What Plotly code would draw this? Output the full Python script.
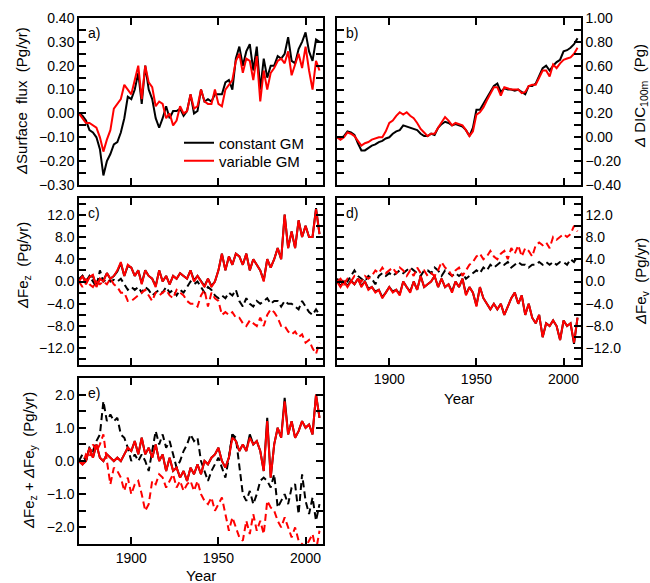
import plotly.graph_objects as go

# ---------------- data (2-year sampling) ----------------
years = list(range(1870, 2010, 2))

# a) surface flux (Pg/yr)
flux_const = [0.00, -0.01, -0.03, -0.07, -0.08, -0.10, -0.15, -0.26, -0.20, -0.17,
              -0.13, -0.12, -0.08, -0.02, 0.07, 0.06, 0.10, 0.17, 0.04, 0.20,
              0.10, 0.06, -0.02, -0.06, -0.02, 0.03, -0.02, 0.01, 0.01, 0.02,
              -0.01, 0.01, 0.08, 0.00, 0.01, 0.10, 0.05, 0.06, 0.05, 0.08,
              0.08, 0.08, 0.13, 0.14, 0.10, 0.23, 0.28, 0.20, 0.26, 0.29,
              0.18, 0.28, 0.10, 0.23, 0.15, 0.20, 0.20, 0.24, 0.23, 0.25,
              0.32, 0.22, 0.21, 0.27, 0.30, 0.34, 0.26, 0.22, 0.31, 0.30]
flux_var = [0.00, -0.02, -0.04, -0.04, -0.05, -0.06, -0.10, -0.16, -0.11, -0.07,
            0.02, 0.04, 0.06, 0.12, 0.10, 0.08, 0.14, 0.20, 0.06, 0.20,
            0.13, 0.11, 0.03, 0.05, 0.04, -0.02, 0.00, -0.05, -0.03, 0.03,
            0.00, 0.01, 0.08, 0.02, 0.03, 0.10, 0.05, 0.04, 0.04, 0.10,
            0.04, 0.03, 0.10, 0.12, 0.14, 0.22, 0.25, 0.17, 0.23, 0.22,
            0.14, 0.24, 0.05, 0.18, 0.10, 0.17, 0.19, 0.22, 0.23, 0.21,
            0.26, 0.16, 0.21, 0.25, 0.19, 0.28, 0.18, 0.10, 0.22, 0.18]

# b) DIC in top 100 m (Pg)
dic_const = [0.00, -0.01, 0.01, 0.05, 0.04, 0.02, -0.05, -0.11, -0.11, -0.09,
             -0.07, -0.06, -0.04, -0.03, -0.01, 0.00, 0.03, 0.05, 0.06, 0.10,
             0.09, 0.08, 0.07, 0.06, 0.03, 0.01, 0.01, 0.03, 0.02, 0.08,
             0.11, 0.13, 0.12, 0.10, 0.11, 0.10, 0.09, 0.06, 0.01, 0.08,
             0.23, 0.23, 0.28, 0.32, 0.38, 0.43, 0.45, 0.38, 0.41, 0.40,
             0.40, 0.39, 0.40, 0.38, 0.36, 0.43, 0.43, 0.45, 0.52, 0.58,
             0.60, 0.56, 0.60, 0.63, 0.65, 0.72, 0.73, 0.75, 0.78, 0.83]
dic_var = [0.00, -0.02, 0.00, 0.04, 0.03, 0.01, -0.03, -0.07, -0.05, -0.04,
           -0.02, -0.01, 0.00, 0.00, 0.05, 0.12, 0.14, 0.18, 0.21, 0.19,
           0.21, 0.18, 0.16, 0.12, 0.07, 0.04, 0.01, 0.03, 0.03, 0.08,
           0.13, 0.17, 0.14, 0.10, 0.12, 0.11, 0.10, 0.06, 0.01, 0.05,
           0.19, 0.21, 0.25, 0.31, 0.36, 0.42, 0.42, 0.35, 0.42, 0.41,
           0.40, 0.40, 0.40, 0.37, 0.38, 0.43, 0.44, 0.44, 0.50, 0.56,
           0.56, 0.51, 0.61, 0.58, 0.62, 0.65, 0.66, 0.67, 0.70, 0.75]

# c) vertical Fe flux (solid / dashed components)
fez_const_solid = [0.2, 1.0, -0.3, 0.8, 1.0, -0.8, 0.5, 0.2, 1.5, 0.5,
                   1.0, 1.8, 3.3, 1.0, 2.8, 2.5, 1.0, 2.0, -0.3, 2.0,
                   1.0, 0.5, -0.8, 2.0, 0.0, 1.0, -0.5, 1.0, 0.5, 1.5,
                   1.0, 0.5, 2.0, 0.2, 1.0, 0.0, -0.8, 0.5, -0.8, 0.0,
                   2.0, 5.0, 2.0, 4.5, 3.0, 5.0, 4.5, 3.0, 5.0, 2.0,
                   4.0, 3.0, 2.0, 0.2, 4.0, 2.5, 4.0, 6.0, 4.0, 12.0,
                   6.0, 9.0, 6.0, 11.0, 8.0, 10.0, 8.0, 8.0, 13.2, 8.5]
fez_var_solid = [0.0, 1.0, -0.5, 0.8, 1.2, -1.0, 0.5, 0.0, 1.5, 0.5,
                 1.0, 2.0, 3.5, 1.0, 3.0, 2.5, 1.0, 2.0, -0.5, 2.0,
                 1.0, 0.5, -1.0, 2.0, 0.0, 1.0, -0.5, 1.0, 0.5, 1.5,
                 1.0, 0.5, 2.0, 0.0, 1.0, 0.0, -1.0, 0.5, -1.0, 0.0,
                 2.0, 5.0, 2.0, 4.5, 3.0, 5.0, 4.5, 3.0, 5.0, 2.0,
                 4.0, 3.0, 2.0, 0.0, 4.0, 2.5, 4.0, 6.0, 4.0, 12.0,
                 6.0, 9.0, 6.0, 11.0, 8.0, 10.0, 8.0, 8.0, 13.0, 8.5]
fez_const_dash = [0.5, 1.0, 0.0, 1.0, 0.0, -1.0, 2.0, 0.0, 0.5, 0.0,
                  0.3, 0.0, 0.5, -0.5, -1.5, -1.0, -1.5, -1.0, -2.0, -1.0,
                  -1.5, -2.5, -2.0, -1.5, -2.0, -1.0, -2.0, -1.5, -2.5, -1.5,
                  -2.0, -1.0, 0.0, -0.5, 0.0, -1.0, -2.0, -1.0, -1.5, -2.5,
                  -3.0, -2.5, -3.0, -2.0, -2.5, -1.5, -3.5, -4.5, -3.0, -4.0,
                  -4.5, -3.5, -4.0, -3.5, -3.0, -4.0, -3.5, -3.5, -4.5, -3.5,
                  -4.0, -4.0, -4.5, -5.0, -3.5, -4.5, -5.5, -6.0, -5.0, -6.0]
fez_var_dash = [0.0, -1.0, 0.5, -0.5, -1.0, 0.0, -0.5, 0.0, -0.5, 0.5,
                -0.5, -1.0, -2.0, -2.0, -3.5, -3.5, -3.0, -2.5, -2.0, -1.5,
                -2.5, -3.5, -2.0, -2.5, -2.0, -1.5, -2.5, -3.0, -1.5, -2.0,
                -2.5, -3.5, -4.0, -4.0, -4.5, -2.5, -1.5, -4.5, -2.0, -3.0,
                -3.5, -6.0, -5.5, -6.0, -5.5, -6.5, -6.5, -7.5, -8.0, -7.0,
                -7.5, -8.0, -6.5, -8.0, -6.0, -5.0, -5.5, -6.5, -8.0, -8.0,
                -9.0, -9.5, -9.0, -10.0, -9.5, -11.0, -10.5, -12.0, -13.0, -11.0]

# d) horizontal Fe flux
fev_const_solid = [0.2, -0.8, 0.0, -0.8, 0.2, -0.5, 0.5, -0.8, 0.0, -1.3,
                   -1.0, -1.8, -1.5, -2.8, -2.0, -1.0, -1.8, -1.5, -2.3, 0.0,
                   -1.0, -1.8, 0.0, -1.5, 1.0, -1.0, -0.5, 0.0, 1.0, -1.0,
                   0.5, -1.0, -0.5, -1.8, 0.0, -1.0, 0.5, -2.3, -1.0, -2.0,
                   -4.3, -1.0, -3.0, -4.0, -5.0, -4.0, -5.0, -4.0, -6.0, -4.5,
                   -3.0, -2.0, -4.0, -2.5, -6.0, -4.0, -6.5, -7.5, -6.0, -10.0,
                   -7.5, -8.0, -7.0, -8.0, -10.5, -7.0, -8.0, -7.5, -11.2, -6.5]
fev_var_solid = [0.0, -1.0, 0.0, -1.0, 0.0, -0.5, 0.5, -1.0, 0.0, -1.5,
                 -1.0, -2.0, -1.5, -3.0, -2.0, -1.0, -2.0, -1.5, -2.5, 0.0,
                 -1.0, -2.0, 0.0, -1.5, 1.0, -1.0, -0.5, 0.0, 1.0, -1.0,
                 0.5, -1.0, -0.5, -2.0, 0.0, -1.0, 0.5, -2.5, -1.0, -2.0,
                 -4.5, -1.0, -3.0, -4.0, -5.0, -4.0, -5.0, -4.0, -6.0, -4.5,
                 -3.0, -2.0, -4.0, -2.5, -6.0, -4.0, -6.5, -7.5, -6.0, -10.0,
                 -7.5, -8.0, -7.0, -8.0, -10.5, -7.0, -8.0, -7.5, -11.0, -6.5]
fev_const_dash = [0.5, 0.0, 0.5, 0.0, 1.0, 2.0, 1.0, 0.5, 0.0, 1.0,
                  0.5, -0.5, 1.0, 1.5, 1.0, 1.5, 1.0, 1.5, 2.0, 1.5,
                  2.0, 2.5, 2.0, 1.5, 1.0, 2.0, 2.0, 1.5, 2.5, 2.0,
                  1.0, 2.0, 1.5, 1.0, 1.5, 1.0, 1.5, 0.5, 1.0, 1.5,
                  2.0, 1.5, 2.5, 2.0, 3.0, 2.5, 3.0, 3.5, 3.0, 3.5,
                  2.5, 3.0, 3.5, 3.0, 3.0, 2.5, 3.0, 3.0, 3.5, 3.0,
                  3.5, 3.0, 3.5, 3.0, 3.5, 3.5, 3.0, 4.0, 3.5, 4.5]
fev_var_dash = [0.0, 0.5, -0.5, 0.5, 0.0, 1.0, 0.5, 0.0, 1.0, 0.5,
                1.0, 2.0, 1.5, 2.5, 1.5, 2.0, 2.5, 1.5, 2.5, 2.0,
                1.0, 2.0, 1.0, 2.5, 1.5, 2.0, 1.0, 1.5, 1.0, 2.0,
                3.5, 2.5, 2.0, 1.0, 2.0, 2.5, 1.0, 2.0, 3.0, 3.5,
                4.5, 5.0, 4.0, 4.5, 5.5, 4.5, 4.0, 5.0, 5.5, 4.0,
                6.0, 5.0, 6.5, 4.5, 6.0, 5.5, 4.5, 6.5, 7.0, 6.5,
                7.0, 6.0, 8.0, 7.5, 8.0, 8.5, 8.0, 8.5, 10.0, 9.0]

# e) sum of the two
sum_const_solid = [0.0, -0.1, 0.0, 0.4, 0.1, 0.5, 0.1, 0.0, 0.2, 0.1,
                   0.0, 0.1, 0.0, 0.2, 0.4, 0.3, 0.6, 0.2, 0.7, 0.2,
                   0.4, 0.1, 0.5, 0.0, 0.2, -0.3, 0.1, -0.3, -0.2, -0.5,
                   -0.3, -0.6, -0.2, -0.4, -0.1, -0.4, 0.0, -0.1, 0.1, 0.2,
                   0.4, 0.0, -0.2, 0.1, 0.8, 0.6, 0.3, 0.5, 0.3, 0.8,
                   0.5, 0.6, 0.3, -0.3, 1.3, -0.5, 0.5, 1.0, 0.7, 1.9,
                   0.8, 1.2, 0.7, 0.9, 1.2, 1.0, 1.1, 0.8, 2.0, 1.3]
sum_var_solid = [0.0, -0.1, 0.0, 0.4, 0.1, 0.5, 0.1, 0.0, 0.2, 0.1,
                 0.0, 0.1, 0.0, 0.2, 0.4, 0.3, 0.6, 0.2, 0.7, 0.2,
                 0.4, 0.1, 0.5, 0.0, 0.2, -0.3, 0.1, -0.3, -0.2, -0.5,
                 -0.3, -0.6, -0.2, -0.4, -0.1, -0.4, 0.0, -0.1, 0.1, 0.2,
                 0.4, 0.0, -0.2, 0.1, 0.7, 0.6, 0.3, 0.5, 0.3, 0.7,
                 0.5, 0.6, 0.3, -0.3, 1.2, -0.5, 0.5, 1.0, 0.7, 1.8,
                 0.8, 1.2, 0.7, 0.9, 1.2, 1.0, 1.1, 0.8, 2.0, 1.3]
sum_const_dash = [0.0, 0.2, 0.0, 0.4, 0.3, 0.6, 0.8, 1.8, 1.2, 1.4,
                  1.2, 1.3, 0.8, 0.7, 0.4, 0.0, 0.2, 0.0, 0.2, 0.0,
                  -0.3, 0.3, 0.9, 0.5, 0.8, 0.4, 0.6, 0.2, -0.2, 0.0,
                  0.3, 0.5, 0.8, 0.6, 0.7, 0.0, -0.3, -0.6, -0.3, -0.1,
                  0.1, -0.2, -0.5, 0.1, 0.8, 0.7, -0.2, -1.0, -1.2, -0.9,
                  -1.3, -1.0, -0.6, -0.5, -0.6, -0.8, -0.4, -1.4, -1.2, -1.0,
                  -1.3, -0.8, -0.7, -1.6, -0.4, -1.2, -1.6, -1.1, -1.8, -1.3]
sum_var_dash = [0.0, -0.1, 0.2, 0.1, 0.5, 0.3, 0.5, 0.8, 0.0, -0.7,
                -0.2, -0.3, -0.5, -0.9, -0.5, -1.0, -0.7, -0.6, -1.0, -1.5,
                -1.3, -0.6, -0.7, -0.4, -0.5, -0.8, -0.6, -0.4, -0.8, -0.6,
                -0.9, -0.7, -0.6, -0.9, -0.6, -1.0, -1.2, -1.3, -1.1, -1.5,
                -1.3, -1.1, -1.6, -2.1, -1.7, -2.0, -2.3, -2.4, -1.8, -2.2,
                -1.6, -2.1, -1.8, -2.2, -1.2, -1.4, -1.5, -1.8, -2.0, -1.7,
                -2.0, -2.3, -2.0, -2.4, -2.5, -2.6, -2.4, -2.2, -2.7, -2.1]

# ---------------- figure ----------------
W, H = 650, 583
FONT = "Liberation Sans, Arial, sans-serif"
BLACK, RED = "#000000", "#ff0000"
DASH = "7px,4px"
LW = 2

col1 = [79 / W, 323 / W]
col2 = [337 / W, 581 / W]
row1 = [1 - 185 / H, 1 - 18 / H]
row2 = [1 - 365 / H, 1 - 198 / H]
row3 = [1 - 544 / H, 1 - 378 / H]

fig = go.Figure()


def line(y, ax, color, dash=None, name=None, legend=None):
    fig.add_trace(go.Scatter(
        x=years, y=y, xaxis="x" + ax, yaxis="y" + ax, mode="lines",
        line=dict(color=color, width=LW, dash=dash or "solid"),
        name=name, showlegend=legend is not None, legend=legend or "legend",
        hoverinfo="skip"))


line(flux_const, "", BLACK, name="constant GM", legend="legend")
line(flux_var, "", RED, name="variable GM", legend="legend2")

line(dic_const, "2", BLACK)
line(dic_var, "2", RED)

line(fez_const_dash, "3", BLACK, DASH)
line(fez_const_solid, "3", BLACK)
line(fez_var_dash, "3", RED, DASH)
line(fez_var_solid, "3", RED)

line(fev_const_dash, "4", BLACK, DASH)
line(fev_const_solid, "4", BLACK)
line(fev_var_dash, "4", RED, DASH)
line(fev_var_solid, "4", RED)

line(sum_const_dash, "5", BLACK, DASH)
line(sum_const_solid, "5", BLACK)
line(sum_var_dash, "5", RED, DASH)
line(sum_var_solid, "5", RED)

common = dict(ticks="inside", ticklen=7, tickwidth=1.5, tickcolor="black",
              showline=True, linecolor="black", linewidth=1.5, mirror="ticks",
              showgrid=False, zeroline=False, automargin=False,
              tickfont=dict(size=14, color="black"))


def xax(domain, anchor, labels):
    d = dict(common)
    d.update(domain=domain, anchor=anchor, range=[1870, 2010],
             tickvals=[1900, 1950, 2000], showticklabels=labels)
    return d


def yax(domain, anchor, rng, dtick, minor, fmt, side="left"):
    d = dict(common)
    d.update(domain=domain, anchor=anchor, range=rng, dtick=dtick, tick0=0,
             tickformat=fmt, side=side,
             minor=dict(dtick=minor, tick0=0, ticks="inside", ticklen=7,
                        tickwidth=1.5, tickcolor="black"))
    return d


leg = dict(xanchor="left", yanchor="middle", bgcolor="rgba(0,0,0,0)",
           font=dict(size=15), itemwidth=30)

fig.update_layout(
    width=W, height=H, margin=dict(l=0, r=0, t=0, b=0),
    paper_bgcolor="white", plot_bgcolor="white",
    font=dict(family=FONT, size=14, color="black"),
    xaxis=xax(col1, "y", False),
    yaxis=yax(row1, "x", [-0.30, 0.40], 0.1, 0.05, ".2f"),
    xaxis2=xax(col2, "y2", False),
    yaxis2=yax(row1, "x2", [-0.40, 1.00], 0.2, 0.1, ".2f", side="right"),
    xaxis3=xax(col1, "y3", False),
    yaxis3=yax(row2, "x3", [-15, 15], 4, 2, ".1f"),
    xaxis4=xax(col2, "y4", True),
    yaxis4=yax(row2, "x4", [-15, 15], 4, 2, ".1f", side="right"),
    xaxis5=xax(col1, "y5", True),
    yaxis5=yax(row3, "x5", [-2.5, 2.5], 1, 0.5, ".1f"),
    legend=dict(leg, x=179 / W, y=1 - 143 / H),
    legend2=dict(leg, x=179 / W, y=1 - 161 / H),
    showlegend=True,
)

# panel letters
for ax, lab in [("", "a)"), ("2", "b)"), ("3", "c)"), ("4", "d)"), ("5", "e)")]:
    fig.add_annotation(text=lab, xref="x" + ax + " domain", yref="y" + ax + " domain",
                       x=0.03, y=0.97, xanchor="left", yanchor="top",
                       showarrow=False, font=dict(size=14))

# axis titles
titles = [
    ("<i>Δ</i>Surface  flux  (Pg/yr)", 21, 101, -90),
    ("<i>Δ</i> DIC<sub>100m</sub>  (Pg)", 641, 96, -90),
    ("<i>Δ</i>Fe<sub>z</sub>  (Pg/yr)", 23, 266, -90),
    ("<i>Δ</i>Fe<sub>v</sub>  (Pg/yr)", 641, 282, -90),
    ("<i>Δ</i>Fe<sub>z</sub> + <i>Δ</i>Fe<sub>y</sub>  (Pg/yr)", 29, 461, -90),
    ("Year", 459, 398, 0),
    ("Year", 201, 575, 0),
]
for txt, px, py, ang in titles:
    fig.add_annotation(text=txt, xref="paper", yref="paper",
                       x=px / W, y=1 - py / H, xanchor="center", yanchor="middle",
                       textangle=ang, showarrow=False, font=dict(size=15))

fig.write_html("out.html", config={"displayModeBar": False},
               post_script="document.body.style.margin='0px';document.body.style.overflow='hidden';")
